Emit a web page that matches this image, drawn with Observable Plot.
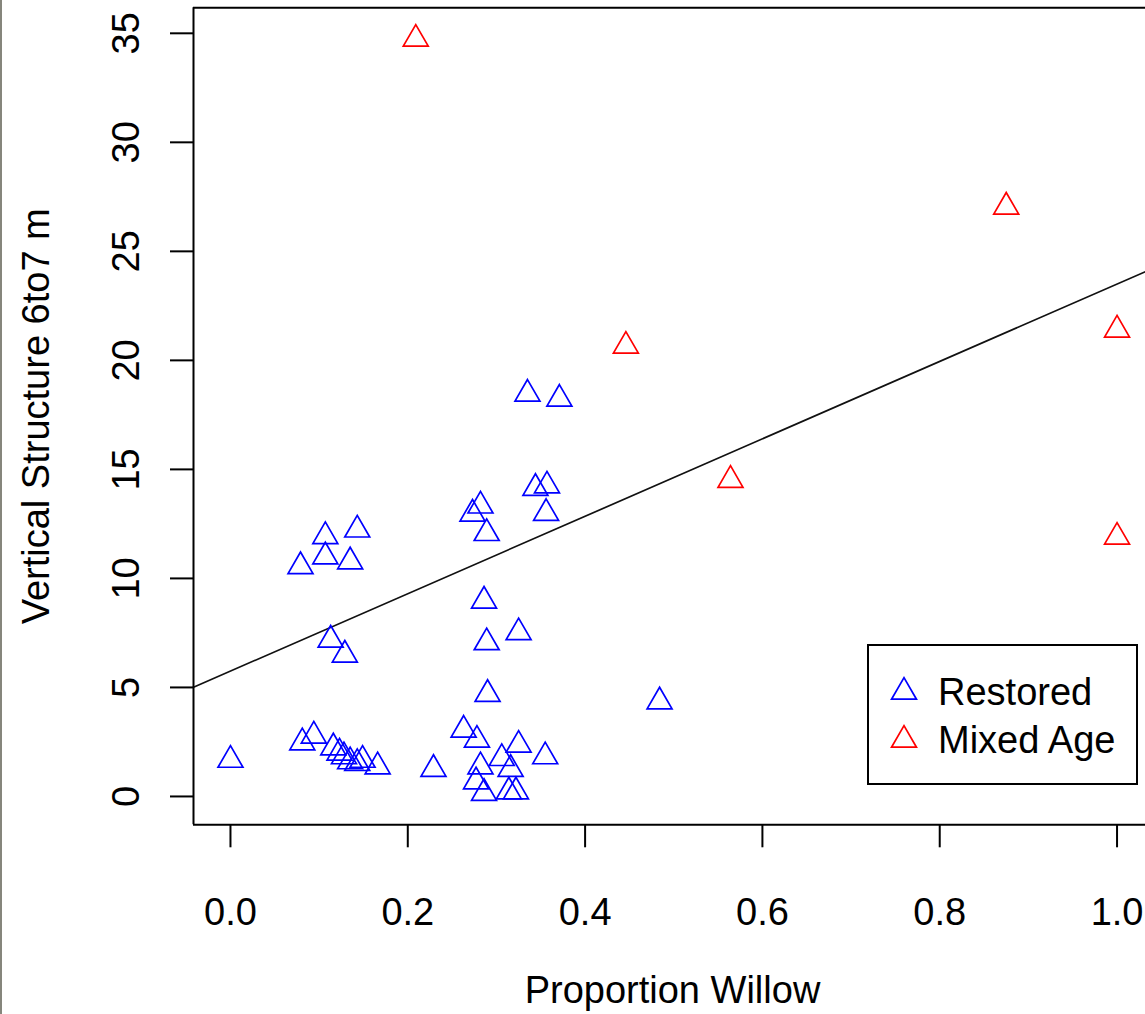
<!DOCTYPE html>
<html>
<head>
<meta charset="utf-8">
<script src="https://cdn.jsdelivr.net/npm/d3@7"></script>
<script src="https://cdn.jsdelivr.net/npm/@observablehq/plot@0.6"></script>
<style>
  html, body { margin: 0; padding: 0; background: #fff; }
  #wrap { position: relative; width: 1145px; height: 1014px; overflow: hidden; background: #fff; }
  #edge { position: absolute; left: 0; top: 0; width: 2px; height: 1014px; background: #86867c; }
  #legend { position: absolute; left: 867px; top: 644px; width: 271px; height: 141px; box-sizing: border-box;
            border: 2px solid #000; background: #fff; font-family: "Liberation Sans", Arial, sans-serif; font-size: 38px; color: #000; }
  .row { position: absolute; left: 0; height: 46px; width: 100%; }
  .row svg { position: absolute; left: 10px; top: 0; }
  .row span { position: absolute; left: 69px; top: 0; line-height: 46px; white-space: nowrap; }
</style>
</head>
<body>
<div id="wrap"><div id="edge"></div></div>
<script>
// ---- data ----
const groups = ["Restored", "Mixed Age"];
const groupColors = ["#0000FF", "#FF0000"];

const restoredX = [0.000, 0.081, 0.094, 0.116, 0.123, 0.128, 0.135, 0.143, 0.149, 0.166,
                   0.229, 0.263, 0.278, 0.325, 0.355, 0.306, 0.282, 0.316, 0.277, 0.286,
                   0.314, 0.322, 0.290, 0.289, 0.325, 0.286, 0.113, 0.129, 0.079, 0.107,
                   0.135, 0.107, 0.143, 0.289, 0.273, 0.282, 0.356, 0.344, 0.357, 0.335,
                   0.371, 0.484];
const restoredY = [1.67, 2.47, 2.78, 2.24, 2.00, 1.83, 1.60, 1.52, 1.67, 1.37,
                   1.25, 3.05, 2.59, 2.36, 1.83, 1.75, 1.37, 1.25, 0.68, 0.15,
                   0.22, 0.22, 4.69, 7.06, 7.52, 8.97, 7.18, 6.49, 10.55, 11.00,
                   10.77, 11.93, 12.23, 12.07, 12.96, 13.33, 12.99, 14.14, 14.25, 18.46,
                   18.23, 4.35];

const mixedX = [0.209, 0.446, 0.564, 0.875, 1.000, 1.000];
const mixedY = [34.74, 20.66, 14.51, 27.04, 21.40, 11.90];

const fitIntercept = 5.75;
const fitSlope = 17.75;

const xTicks = [0.0, 0.2, 0.4, 0.6, 0.8, 1.0];
const yTicks = [0, 5, 10, 15, 20, 25, 30, 35];
const xLabel = "Proportion Willow";
const yLabel = "Vertical Structure 6to7 m";

// ---- build ----
const points = [
  ...restoredX.map((x, i) => ({x, y: restoredY[i], g: groups[0]})),
  ...mixedX.map((x, i) => ({x, y: mixedY[i], g: groups[1]}))
];
const xDomain = [-0.0417, 1.0321];
const yDomain = [-1.30, 36.17];
const fitLine = xDomain.map(x => ({x, y: fitIntercept + fitSlope * x}));

const font = "'Liberation Sans', Arial, Helvetica, sans-serif";
const triR = 9.26;

const chart = Plot.plot({
  width: 1145,
  height: 1014,
  marginLeft: 193,
  marginRight: 0,
  marginTop: 7.3,
  marginBottom: 189.7,
  x: {domain: xDomain},
  y: {domain: yDomain},
  color: {domain: groups, range: groupColors},
  style: {fontFamily: font, fontSize: "38px", background: "white", color: "black", overflow: "hidden"},
  marks: [
    Plot.line(fitLine, {x: "x", y: "y", stroke: "#111", strokeWidth: 1.7}),
    Plot.dot(points, {x: "x", y: "y", symbol: "triangle", r: triR, stroke: "g", strokeWidth: 1.7, fill: "none"}),
    Plot.ruleX([xDomain[0]], {stroke: "#000", strokeWidth: 2}),
    Plot.ruleY([yDomain[0], yDomain[1]], {stroke: "#000", strokeWidth: 2}),
    Plot.axisX({ticks: xTicks, tickSize: 23, tickPadding: 50, tickFormat: d => d.toFixed(1),
                fontSize: 38, strokeWidth: 2, label: null}),
    Plot.axisY({ticks: yTicks, tickSize: 23, tickPadding: 32, tickRotate: -90,
                fontSize: 38, strokeWidth: 2, label: null}),
    Plot.text([xLabel], {frameAnchor: "bottom", dx: 3, dy: 166, lineAnchor: "middle", fontSize: 38, fill: "#000"}),
    Plot.text([yLabel], {frameAnchor: "left", rotate: -90, dx: -157, lineAnchor: "middle", textAnchor: "middle", fontSize: 38, fill: "#000"})
  ]
});
document.getElementById("wrap").appendChild(chart);

// ---- legend (inside plot area, as in the reference) ----
const legend = document.createElement("div");
legend.id = "legend";
const triPath = d3.symbol(d3.symbolTriangle, triR * triR * Math.PI)();
groups.forEach((g, i) => {
  const row = document.createElement("div");
  row.className = "row";
  row.style.top = (23 + i * 47.5) + "px";
  row.innerHTML = `<svg width="50" height="46" viewBox="-25 -23 50 46"><path d="${triPath}" fill="none" stroke="${groupColors[i]}" stroke-width="1.7"/></svg><span>${g}</span>`;
  legend.appendChild(row);
});
document.getElementById("wrap").appendChild(legend);
</script>
</body>
</html>
